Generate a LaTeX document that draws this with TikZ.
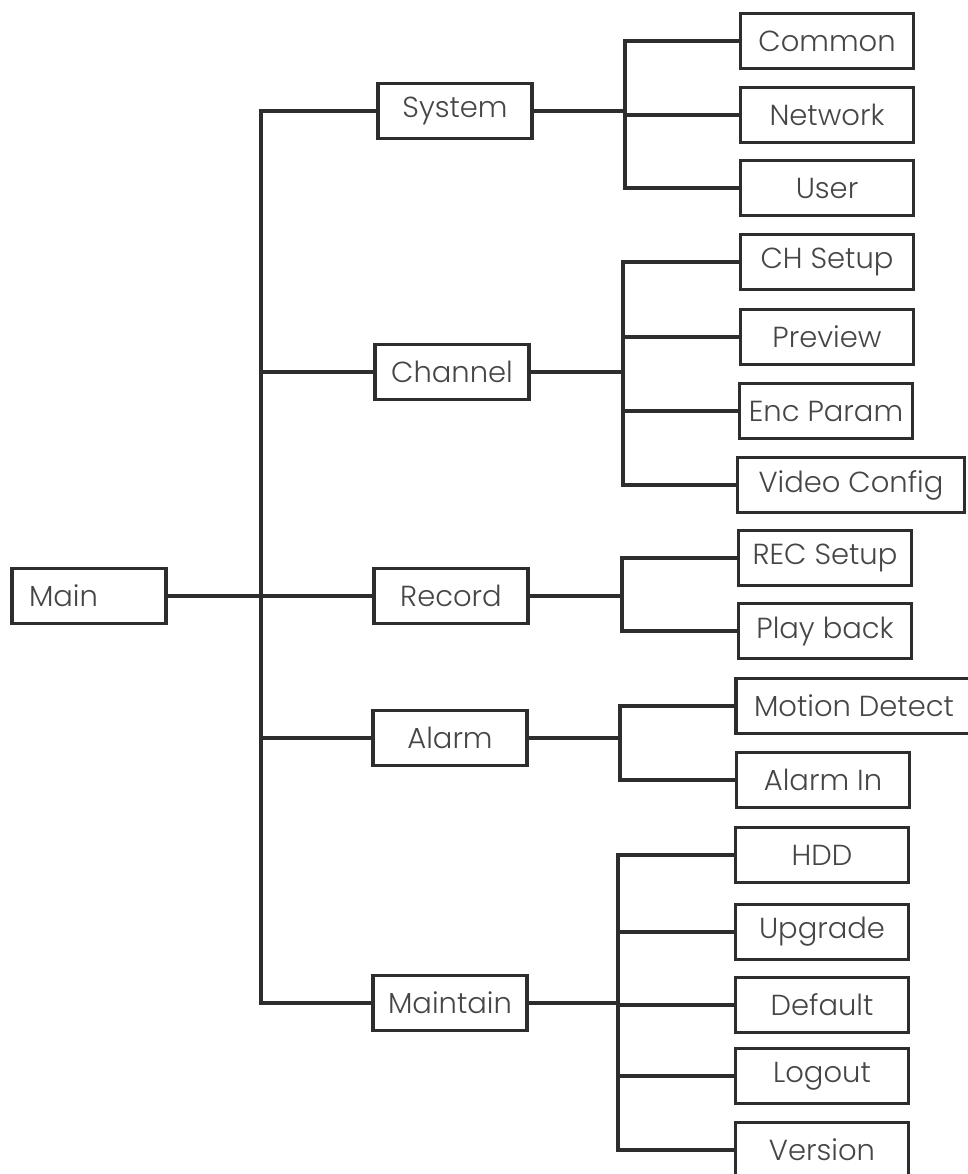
\documentclass[tikz,border=0pt]{standalone}
\usepackage{fontspec}
\setmainfont{Poppins}[UprightFont=* Light]
\definecolor{lc}{RGB}{45,45,45}
\definecolor{txt}{RGB}{70,70,70}
\begin{document}
\begin{tikzpicture}[x=1pt,y=-1pt,
  box/.style={draw=lc, line width=3.2pt, fill=white, minimum height=55pt, inner sep=0pt,
              font=\fontsize{29}{32}\selectfont, text=txt},
  mid/.style={box, minimum width=154pt},
  leaf/.style={box, minimum width=173pt},
  conn/.style={draw=lc, line width=3.2pt, line join=miter}]
\useasboundingbox (0,0) rectangle (968,1174);
\fill[white] (0,0) rectangle (968,1174);
% nodes
\node[box, minimum width=154pt, text width=120pt, align=left] (main) at (89,596) {Main};
\node[mid] (sys) at (455,111) {System};
\node[mid] (chn) at (452,372) {Channel};
\node[mid] (rec) at (451,596) {Record};
\node[mid] (alm) at (450,738) {Alarm};
\node[mid] (mnt) at (450,1003) {Maintain};
\node[leaf] (com) at (827,41) {Common};
\node[leaf] (net) at (827,115) {Network};
\node[leaf] (usr) at (827,188) {User};
\node[leaf] (chs) at (827,262) {CH Setup};
\node[leaf] (prv) at (827,337) {Preview};
\node[leaf] (enc) at (826,411) {Enc Param};
\node[box, minimum width=227pt] (vid) at (851,485) {Video Config};
\node[leaf] (rcs) at (825,558) {REC Setup};
\node[leaf] (ply) at (825,631) {Play back};
\node[box, minimum width=236pt] (mot) at (854,706) {Motion Detect};
\node[leaf] (ain) at (823,780) {Alarm In};
\node[leaf] (hdd) at (822,855) {HDD};
\node[leaf] (upg) at (822,932) {Upgrade};
\node[leaf] (dft) at (822,1005) {Default};
\node[leaf] (lgo) at (822,1076) {Logout};
\node[leaf] (ver) at (822,1150) {Version};
% trunk and branch columns
\coordinate (tx) at (261,0);
\coordinate (sv) at (625,0);
\coordinate (cv) at (623,0);
\coordinate (rv) at (622,0);
\coordinate (av) at (620,0);
\coordinate (mv) at (618,0);
\draw[conn] (sys.west) -- (sys.west -| tx) -- (mnt.west -| tx) -- (mnt.west);
\draw[conn] (main.east) -- (rec.west);
\draw[conn] (chn.west) -- (chn.west -| tx);
\draw[conn] (alm.west) -- (alm.west -| tx);
% system group
\draw[conn] (com.west) -- (com.west -| sv) -- (usr.west -| sv) -- (usr.west);
\draw[conn] (sys.east) -- (sys.east -| sv);
\draw[conn] (net.west) -- (net.west -| sv);
% channel group
\draw[conn] (chs.west) -- (chs.west -| cv) -- (vid.west -| cv) -- (vid.west);
\draw[conn] (chn.east) -- (chn.east -| cv);
\draw[conn] (prv.west) -- (prv.west -| cv);
\draw[conn] (enc.west) -- (enc.west -| cv);
% record group
\draw[conn] (rcs.west) -- (rcs.west -| rv) -- (ply.west -| rv) -- (ply.west);
\draw[conn] (rec.east) -- (rec.east -| rv);
% alarm group
\draw[conn] (mot.west) -- (mot.west -| av) -- (ain.west -| av) -- (ain.west);
\draw[conn] (alm.east) -- (alm.east -| av);
% maintain group
\draw[conn] (hdd.west) -- (hdd.west -| mv) -- (ver.west -| mv) -- (ver.west);
\draw[conn] (mnt.east) -- (mnt.east -| mv);
\draw[conn] (upg.west) -- (upg.west -| mv);
\draw[conn] (dft.west) -- (dft.west -| mv);
\draw[conn] (lgo.west) -- (lgo.west -| mv);
\end{tikzpicture}
\end{document}
